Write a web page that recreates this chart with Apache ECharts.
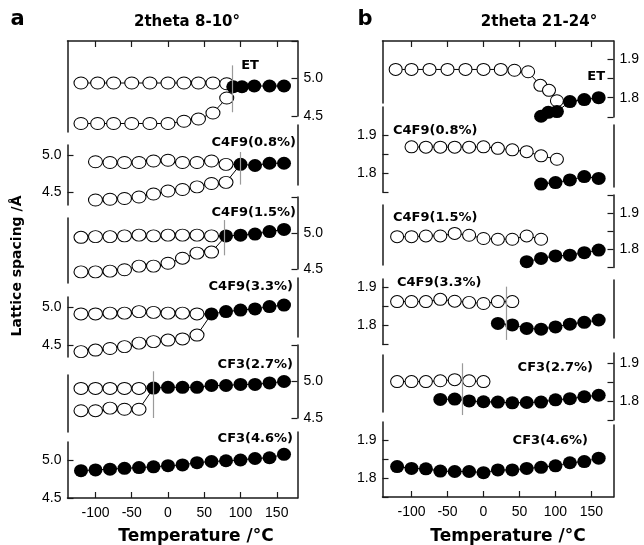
<!DOCTYPE html>
<html><head><meta charset="utf-8">
<script src="https://cdn.jsdelivr.net/npm/echarts@6/dist/echarts.min.js"></script>
<style>html,body{margin:0;padding:0;background:#fff}#c{width:644px;height:545px}</style>
</head><body><div id="c"></div>
<script>
// ---------------- DATA (temperature °C, lattice spacing Å) ----------------
const xTicks = [-100, -50, 0, 50, 100, 150];

// Panel a : 2theta 8-10°
const aET_hiT = [-120,-97,-75,-50,-25,0,22,42,62,81];
const aET_hiV = [4.94,4.94,4.94,4.94,4.94,4.94,4.94,4.94,4.94,4.93];
const aET_loT = [-120,-97,-75,-50,-25,0,22,42,62,81];
const aET_loV = [4.40,4.40,4.40,4.40,4.40,4.40,4.43,4.46,4.54,4.74];
const aET_fT  = [90,102,119,140,160];
const aET_fV  = [4.89,4.89,4.90,4.90,4.90];
const aET_trans = 89;

const a08_hiT = [-100,-80,-60,-40,-20,0,20,40,60,80];
const a08_hiV = [4.91,4.90,4.90,4.90,4.92,4.93,4.90,4.90,4.92,4.875];
const a08_loT = [-100,-80,-60,-40,-20,0,20,40,60,80];
const a08_loV = [4.40,4.41,4.42,4.44,4.48,4.52,4.54,4.575,4.62,4.635];
const a08_fT  = [100,120,140,160];
const a08_fV  = [4.875,4.86,4.89,4.89];
const a08_trans = 99;

const a15_hiT = [-120,-100,-80,-60,-40,-20,0,20,40,60];
const a15_hiV = [4.94,4.95,4.95,4.96,4.97,4.96,4.97,4.97,4.97,4.96];
const a15_loT = [-120,-100,-80,-60,-40,-20,0,20,40,60];
const a15_loV = [4.46,4.46,4.47,4.49,4.54,4.54,4.58,4.65,4.72,4.735];
const a15_fT  = [80,100,120,140,160];
const a15_fV  = [4.96,4.97,4.985,5.02,5.05];
const a15_trans = 78;

const a33_hiT = [-120,-100,-80,-60,-40,-20,0,20,40];
const a33_hiV = [4.91,4.91,4.92,4.92,4.94,4.93,4.92,4.92,4.91];
const a33_loT = [-120,-100,-80,-60,-40,-20,0,20,40];
const a33_loV = [4.42,4.44,4.46,4.485,4.53,4.55,4.57,4.585,4.635];
const a33_fT  = [60,80,100,120,140,160];
const a33_fV  = [4.91,4.94,4.96,4.975,5.005,5.025];
const a33_trans = 59;

const a27_hiT = [-120,-100,-80,-60,-40];
const a27_hiV = [4.905,4.905,4.905,4.905,4.905];
const a27_loT = [-120,-100,-80,-60,-40];
const a27_loV = [4.60,4.60,4.635,4.62,4.62];
const a27_fT  = [-20,0,20,40,60,80,100,120,140,160];
const a27_fV  = [4.91,4.92,4.92,4.92,4.945,4.945,4.96,4.96,4.98,5.0];
const a27_trans = -21;

const a46_fT = [-120,-100,-80,-60,-40,-20,0,20,40,60,80,100,120,140,160];
const a46_fV = [4.86,4.87,4.88,4.89,4.90,4.91,4.925,4.935,4.965,4.98,4.99,5.00,5.02,5.03,5.075];

// Panel b : 2theta 21-24°
const bET_hiT = [-122,-100,-75,-50,-25,0,24,43,62,79,91,102];
const bET_hiV = [1.873,1.873,1.873,1.873,1.873,1.873,1.873,1.871,1.867,1.832,1.819,1.792];
const bET_fT  = [80,90,102,120,140,160];
const bET_fV  = [1.752,1.762,1.764,1.79,1.795,1.80];
const bET_trans = 91;

const b08_hiT = [-100,-80,-60,-40,-20,0,20,40,60,80,102];
const b08_hiV = [1.870,1.869,1.869,1.869,1.869,1.870,1.866,1.862,1.857,1.846,1.837];
const b08_fT  = [80,100,120,140,160];
const b08_fV  = [1.771,1.775,1.782,1.791,1.786];
const b08_trans = 91;

const b15_hiT = [-120,-100,-80,-60,-40,-20,0,20,40,60,80];
const b15_hiV = [1.835,1.835,1.837,1.837,1.844,1.839,1.830,1.828,1.828,1.837,1.828];
const b15_fT  = [60,80,100,120,140,160];
const b15_fV  = [1.766,1.775,1.782,1.784,1.791,1.798];
const b15_trans = 71.5;

const b33_hiT = [-120,-100,-80,-60,-40,-20,0,20,40];
const b33_hiV = [1.862,1.862,1.862,1.868,1.863,1.860,1.857,1.862,1.862];
const b33_fT  = [20,40,60,80,100,120,140,160];
const b33_fV  = [1.805,1.801,1.792,1.790,1.796,1.803,1.808,1.814];
const b33_trans = 31;

const b27_hiT = [-120,-100,-80,-60,-40,-20,0];
const b27_hiV = [1.851,1.851,1.851,1.853,1.856,1.853,1.851];
const b27_fT  = [-60,-40,-20,0,20,40,60,80,100,120,140,160];
const b27_fV  = [1.804,1.805,1.800,1.798,1.797,1.795,1.796,1.797,1.803,1.806,1.811,1.815];
const b27_trans = -30;

const b46_fT = [-120,-100,-80,-60,-40,-20,0,20,40,60,80,100,120,140,160];
const b46_fV = [1.830,1.825,1.824,1.818,1.817,1.817,1.814,1.821,1.821,1.825,1.828,1.832,1.840,1.843,1.852];

// ---------------- LAYOUT ----------------
const zip = (t, v) => t.map((x, i) => [x, v[i]]);
const TICKF = 'Liberation Sans';
const BOLDF = '"DejaVu Sans"';
const AX = {color: '#1a1a1a', width: 1.5};

const panels = [
  { frameL: 67.5, frameR: 297.5, xMin: -138.6, xMax: 178.6, symOpen: [14, 12], symFill: [14, 13], link: true,
    subs: [
      {name: 'ET', side: 'right', top: 41, bottom: 116, yMin: 4.5, yMax: 5.5, ticks: [4.5, 5.0, 5.5], labels: [4.5, 5.0], plain: [41, 132],
       hi: zip(aET_hiT, aET_hiV), lo: zip(aET_loT, aET_loV), filled: zip(aET_fT, aET_fV), trans: aET_trans, span: [4.55, 5.175],
       lab: {x: 250, y: 66, align: 'center'}},
      {name: 'C4F9(0.8%)', side: 'left', top: 145, bottom: 205, yMin: 4.333, yMax: 5.133, ticks: [4.5, 5.0], labels: [4.5, 5.0], plain: [125, 185],
       hi: zip(a08_hiT, a08_hiV), lo: zip(a08_loT, a08_loV), filled: zip(a08_fT, a08_fV), trans: a08_trans, span: [4.605, 5.04],
       lab: {x: 296, y: 143, align: 'right'}},
      {name: 'C4F9(1.5%)', side: 'right', top: 197, bottom: 269, yMin: 4.5, yMax: 5.5, ticks: [4.5, 5.0, 5.5], labels: [4.5, 5.0], plain: [218, 283],
       hi: zip(a15_hiT, a15_hiV), lo: zip(a15_loT, a15_loV), filled: zip(a15_fT, a15_fV), trans: a15_trans, span: [4.69, 5.18],
       lab: {x: 296, y: 213, align: 'right'}},
      {name: 'C4F9(3.3%)', side: 'left', top: 297, bottom: 357, yMin: 4.35, yMax: 5.13, ticks: [4.5, 5.0], labels: [4.5, 5.0], plain: [278, 337],
       hi: zip(a33_hiT, a33_hiV), lo: zip(a33_loT, a33_loV), filled: zip(a33_fT, a33_fV), trans: a33_trans, span: [4.64, 5.156],
       lab: {x: 293, y: 287, align: 'right'}},
      {name: 'CF3(2.7%)', side: 'right', top: 345, bottom: 418, yMin: 4.5, yMax: 5.5, ticks: [4.5, 5.0, 5.5], labels: [4.5, 5.0], plain: [375, 432],
       hi: zip(a27_hiT, a27_hiV), lo: zip(a27_loT, a27_loV), filled: zip(a27_fT, a27_fV), trans: a27_trans, span: [4.5, 5.14],
       lab: {x: 293, y: 365, align: 'right'}},
      {name: 'CF3(4.6%)', side: 'left', top: 442, bottom: 498, yMin: 4.5, yMax: 5.237, ticks: [4.5, 5.0], labels: [4.5, 5.0], plain: [432, 498],
       filled: zip(a46_fT, a46_fV),
       lab: {x: 293, y: 439, align: 'right'}}
    ]},
  { frameL: 382.5, frameR: 613.5, xMin: -140.3, xMax: 180.6, symOpen: [13, 12], symFill: [14, 13], link: false,
    subs: [
      {name: 'ET', side: 'right', top: 41, bottom: 117, yMin: 1.75, yMax: 1.9466, ticks: [1.75, 1.8, 1.85, 1.9], labels: [1.8, 1.9], plain: [41, 103],
       hi: zip(bET_hiT, bET_hiV), filled: zip(bET_fT, bET_fV), trans: bET_trans, span: [1.708, 1.871],
       lab: {x: 605, y: 77, align: 'right'}},
      {name: 'C4F9(0.8%)', side: 'left', top: 107, bottom: 192, yMin: 1.75, yMax: 1.9757, ticks: [1.75, 1.8, 1.85, 1.9], labels: [1.8, 1.9], plain: [125, 187],
       hi: zip(b08_hiT, b08_hiV), filled: zip(b08_fT, b08_fV), trans: b08_trans, span: [1.723, 1.88],
       lab: {x: 393, y: 131, align: 'left'}},
      {name: 'C4F9(1.5%)', side: 'right', top: 195, bottom: 267.5, yMin: 1.75, yMax: 1.95, ticks: [1.75, 1.8, 1.85, 1.9, 1.95], labels: [1.8, 1.9], plain: [205, 265],
       hi: zip(b15_hiT, b15_hiV), filled: zip(b15_fT, b15_fV), trans: b15_trans, span: [1.721, 1.876],
       lab: {x: 393, y: 218, align: 'left'}},
      {name: 'C4F9(3.3%)', side: 'left', top: 279, bottom: 344.5, yMin: 1.75, yMax: 1.921, ticks: [1.75, 1.8, 1.85, 1.9], labels: [1.8, 1.9], plain: [280, 338],
       hi: zip(b33_hiT, b33_hiV), filled: zip(b33_fT, b33_fV), trans: b33_trans, span: [1.762, 1.901],
       lab: {x: 397, y: 283, align: 'left'}},
      {name: 'CF3(2.7%)', side: 'right', top: 353, bottom: 420, yMin: 1.75, yMax: 1.926, ticks: [1.75, 1.8, 1.85, 1.9], labels: [1.8, 1.9], plain: [355, 412],
       hi: zip(b27_hiT, b27_hiV), filled: zip(b27_fT, b27_fV), trans: b27_trans, span: [1.763, 1.899],
       lab: {x: 593, y: 368, align: 'right'}},
      {name: 'CF3(4.6%)', side: 'left', top: 422, bottom: 497, yMin: 1.75, yMax: 1.947, ticks: [1.75, 1.8, 1.85, 1.9], labels: [1.8, 1.9], plain: [425, 497],
       filled: zip(b46_fT, b46_fV),
       lab: {x: 588, y: 441, align: 'right'}}
    ]}
];

const grid = [], xAxis = [], yAxis = [], series = [], graphic = [];

function txt(text, x, y, font, align, rot) {
  const e = {type: 'text', x: x, y: y, silent: true,
    style: {text: text, font: font, fill: '#000', align: align || 'center', verticalAlign: 'middle',
            textAlign: align || 'center', textVerticalAlign: 'middle'}};
  if (rot) e.rotation = rot;
  graphic.push(e);
}

panels.forEach(p => {
  const n = p.subs.length;
  p.subs.forEach((s, k) => {
    const isTop = k === 0, isBot = k === n - 1;
    // main grid with labelled axis
    const g = grid.length;
    grid.push({left: p.frameL, width: p.frameR - p.frameL, top: s.top, height: s.bottom - s.top, containLabel: false, outerBoundsMode: 'none'});
    xAxis.push({gridIndex: g, type: 'value', min: p.xMin, max: p.xMax, show: isTop || isBot,
      position: isTop ? 'top' : 'bottom',
      axisLine: {show: true, onZero: false, lineStyle: AX},
      axisTick: {show: true, inside: true, length: 6, customValues: xTicks, lineStyle: {color: '#1a1a1a', width: 1.2}},
      axisLabel: {show: isBot, customValues: xTicks, fontSize: 14, fontFamily: TICKF, color: '#000', margin: 8},
      splitLine: {show: false}});
    yAxis.push({gridIndex: g, type: 'value', position: s.side, min: s.yMin, max: s.yMax,
      axisLine: {show: true, onZero: false, lineStyle: AX},
      axisTick: {show: true, inside: true, length: 6, customValues: s.ticks, lineStyle: {color: '#1a1a1a', width: 1.2}},
      axisLabel: {show: true, customValues: s.labels, formatter: v => Number(v).toFixed(1), fontSize: 14, fontFamily: TICKF, color: '#000', margin: 6},
      splitLine: {show: false}});
    // plain opposite line
    const g2 = grid.length;
    grid.push({left: p.frameL, width: p.frameR - p.frameL, top: s.plain[0], height: s.plain[1] - s.plain[0], containLabel: false, outerBoundsMode: 'none'});
    xAxis.push({gridIndex: g2, type: 'value', min: 0, max: 1, show: false});
    yAxis.push({gridIndex: g2, type: 'value', min: 0, max: 1, position: s.side === 'left' ? 'right' : 'left',
      axisLine: {show: true, onZero: false, lineStyle: AX}, axisTick: {show: false}, axisLabel: {show: false}, splitLine: {show: false}});

    const first = s.filled[0];
    const openSeries = (data, withMark) => {
      const d = data.slice();
      if (p.link) d.push({value: first, symbol: 'none'});
      const ser = {type: 'line', xAxisIndex: g, yAxisIndex: g, data: d, symbol: 'circle', symbolSize: p.symOpen,
        itemStyle: {color: '#fff', borderColor: '#000', borderWidth: 1}, lineStyle: {color: '#000', width: 1},
        clip: false, z: 2, silent: true, animation: false};
      if (withMark && s.trans !== undefined) {
        ser.markLine = {silent: true, symbol: ['none', 'none'], label: {show: false}, animation: false,
          lineStyle: {color: '#9a9a9a', width: 1.2, type: 'solid'},
          data: [[{coord: [s.trans, s.span[0]]}, {coord: [s.trans, s.span[1]]}]]};
      }
      return ser;
    };
    if (s.hi) series.push(openSeries(s.hi, true));
    if (s.lo) series.push(openSeries(s.lo, false));
    series.push({type: 'line', xAxisIndex: g, yAxisIndex: g, data: s.filled, symbol: 'circle', symbolSize: p.symFill,
      itemStyle: {color: '#000'}, lineStyle: {color: '#000', width: 1}, clip: false, z: 3, silent: true, animation: false});

    txt(s.name, s.lab.x, s.lab.y, 'bold 13px ' + BOLDF, s.lab.align);
  });
});

txt('a', 17.5, 20, 'bold 21px ' + BOLDF, 'center');
txt('b', 365, 20, 'bold 21px ' + BOLDF, 'center');
txt('2theta 8-10°', 187, 22, 'bold 15px ' + BOLDF, 'center');
txt('2theta 21-24°', 539, 22, 'bold 15px ' + BOLDF, 'center');
txt('Temperature /°C', 196, 537, 'bold 17px ' + BOLDF, 'center');
txt('Temperature /°C', 508, 537, 'bold 17px ' + BOLDF, 'center');
txt('Lattice spacing /Å', 17.5, 266, 'bold 14px ' + BOLDF, 'center', Math.PI / 2);

const chart = echarts.init(document.getElementById('c'), null, {renderer: 'canvas'});
chart.setOption({animation: false, backgroundColor: '#fff', grid, xAxis, yAxis, series, graphic});
</script></body></html>
